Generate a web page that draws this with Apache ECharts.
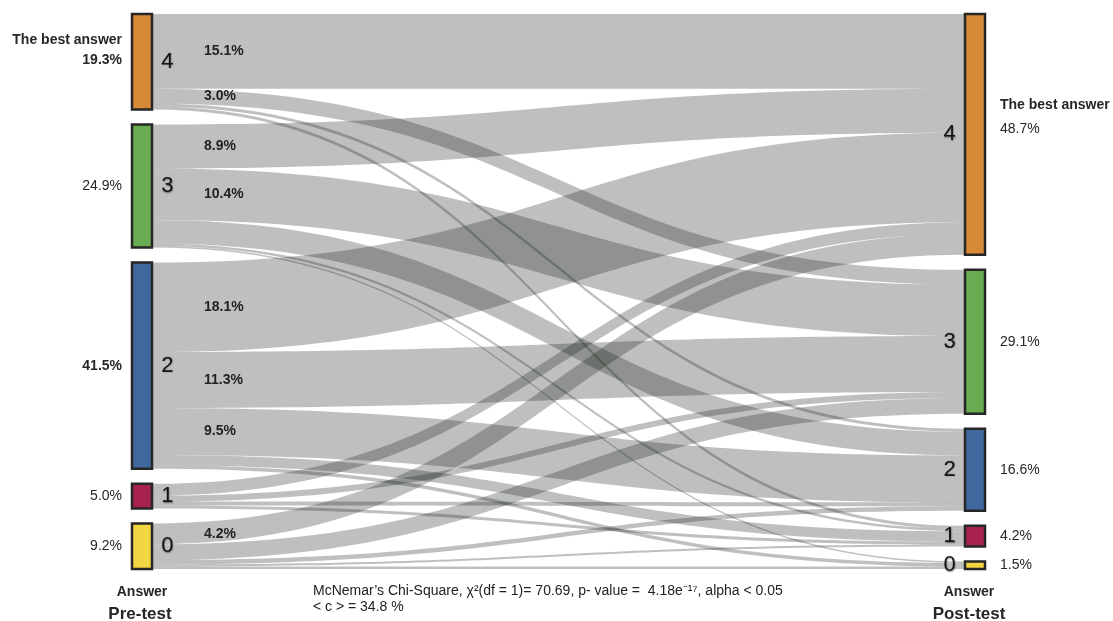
<!DOCTYPE html>
<html><head><meta charset="utf-8">
<script src="https://cdn.jsdelivr.net/npm/echarts@6/dist/echarts.min.js"></script>
<style>html,body{margin:0;padding:0;background:#fff}#c{width:1113px;height:621px}</style>
</head><body><div id="c"></div>
<script>
// answer categories (top to bottom)
const answers = ['4', '3', '2', '1', '0'];
const preLabels = ['19.3%', '24.9%', '41.5%', '5.0%', '9.2%'];
const postLabels = ['48.7%', '29.1%', '16.6%', '4.2%', '1.5%'];
const preBold = [true, false, true, false, false];
const nodeColors = ['#d68a37', '#68ab50', '#41679f', '#a82250', '#f1d541'];
// flows (% of students) from a pre-test answer to post-test answers 4,3,2,1,0
const flowFrom4 = [15.1, 3.0, 0.6, 0.6, 0];
const flowFrom3 = [8.9, 10.4, 4.8, 0.5, 0.3];
const flowFrom2 = [18.1, 11.3, 9.5, 2.1, 0.7];
const flowFrom1 = [2.4, 1.2, 0.8, 0.6, 0];
const flowFrom0 = [4.2, 3.2, 0.9, 0.4, 0.5];
// flows whose value is printed
const labelledFlows = [['4','4'], ['4','3'], ['3','4'], ['3','3'], ['2','4'], ['2','3'], ['2','2'], ['0','4']];
const bestAnswerTitle = 'The best answer';
const footLine1 = 'McNemar\u2019s Chi-Square, \u03c7\u00b2(df = 1)= 70.69, p- value =  4.18e\u207b\u00b9\u2077, alpha < 0.05';
const footLine2 = '< c > = 34.8 %';

const FONT = '"Liberation Sans", Arial, Helvetica, sans-serif';
const flows = [flowFrom4, flowFrom3, flowFrom2, flowFrom1, flowFrom0];

const nodes = [];
answers.forEach((a, i) => nodes.push({
  name: 'pre' + a, depth: 0,
  itemStyle: { color: nodeColors[i] },
  label: { position: 'right', distance: 8 }
}));
answers.forEach((a, i) => nodes.push({
  name: 'post' + a, depth: 1,
  itemStyle: { color: nodeColors[i] },
  label: { position: 'left', distance: 8 }
}));

const links = [];
flows.forEach((row, i) => row.forEach((v, j) => {
  if (v > 0) links.push({ source: 'pre' + answers[i], target: 'post' + answers[j], value: v });
}));

const chart = echarts.init(document.getElementById('c'), null, { renderer: 'canvas' });
chart.setOption({
  animation: false,
  backgroundColor: '#ffffff',
  series: [{
    type: 'sankey',
    left: 132, right: 128, top: 14, bottom: 52,
    nodeWidth: 20, nodeGap: 15,
    layoutIterations: 0,
    draggable: false,
    data: nodes,
    links: links,
    itemStyle: { borderColor: '#262626', borderWidth: 2.5 },
    lineStyle: { color: 'rgb(20,28,20)', opacity: 0.28, curveness: 0.5 },
    label: {
      show: true, fontFamily: FONT, fontSize: 22, color: '#151515',
      formatter: p => p.name.replace(/^(pre|post)/, ''),
      textShadowColor: 'rgba(0,0,0,0.45)', textShadowBlur: 1.5, textShadowOffsetX: 0.5, textShadowOffsetY: 0.5
    },
    emphasis: { disabled: true },
    silent: true
  }]
});

function txt(x, y, text, opts) {
  return {
    type: 'text', x: x, y: y, silent: true,
    style: Object.assign({ text: text, fontFamily: FONT, fontSize: 14, fill: '#262626',
      textAlign: 'left', textVerticalAlign: 'middle' }, opts || {})
  };
}

try {
  const sm = chart.getModel().getSeriesByIndex(0);
  const graph = sm.getGraph();
  const info = sm.layoutInfo;
  const els = [];
  const nodeLayout = name => {
    const n = graph.getNodeByIndex(nodes.findIndex(d => d.name === name));
    return n.getLayout();
  };
  answers.forEach((a, i) => {
    const L = nodeLayout('pre' + a);
    const cy = info.y + L.y + L.dy / 2;
    const xr = info.x + L.x - 10;
    if (i === 0) {
      els.push(txt(xr, cy - 2, preLabels[i], { textAlign: 'right', fontWeight: preBold[i] ? 'bold' : 'normal' }));
      els.push(txt(xr, cy - 22, bestAnswerTitle, { textAlign: 'right', fontWeight: 'bold', fontSize: 14 }));
    } else {
      els.push(txt(xr, cy, preLabels[i], { textAlign: 'right', fontWeight: preBold[i] ? 'bold' : 'normal' }));
    }
    const R = nodeLayout('post' + a);
    const cy2 = info.y + R.y + R.dy / 2;
    const xl = info.x + R.x + R.dx + 15;
    if (i === 0) {
      els.push(txt(xl, cy2 - 5, postLabels[i]));
      els.push(txt(xl, cy2 - 29, bestAnswerTitle, { fontWeight: 'bold', fontSize: 14 }));
    } else {
      els.push(txt(xl, cy2, postLabels[i]));
    }
    if (i === 0) {
      const bx1 = info.x + L.x + L.dx / 2;
      const bx2 = info.x + R.x + R.dx / 2 - 6;
      els.push(txt(bx1, 592, 'Answer', { textAlign: 'center', fontWeight: 'bold', fontSize: 14 }));
      els.push(txt(bx1 - 2, 614, 'Pre-test', { textAlign: 'center', fontWeight: 'bold', fontSize: 17 }));
      els.push(txt(bx2, 592, 'Answer', { textAlign: 'center', fontWeight: 'bold', fontSize: 14 }));
      els.push(txt(bx2, 614, 'Post-test', { textAlign: 'center', fontWeight: 'bold', fontSize: 17 }));
    }
  });
  // flow labels at the source end of each labelled flow
  graph.edges.forEach(e => {
    const s = e.node1.id.replace('pre', ''), t = e.node2.id.replace('post', '');
    if (!labelledFlows.some(f => f[0] === s && f[1] === t)) return;
    const NL = e.node1.getLayout(), EL = e.getLayout();
    const x = info.x + NL.x + NL.dx + 52;
    const y = info.y + NL.y + EL.sy + EL.dy / 2;
    els.push(txt(x, y, e.getValue().toFixed(1) + '%', { fontWeight: 'bold' }));
  });
  els.push(txt(313, 591, footLine1, { fontSize: 14, fill: '#222' }));
  els.push(txt(313, 607, footLine2, { fontSize: 14, fill: '#222' }));
  chart.setOption({ graphic: { elements: els } });
} catch (err) {
  console.error(err);
}
</script>
</body></html>
